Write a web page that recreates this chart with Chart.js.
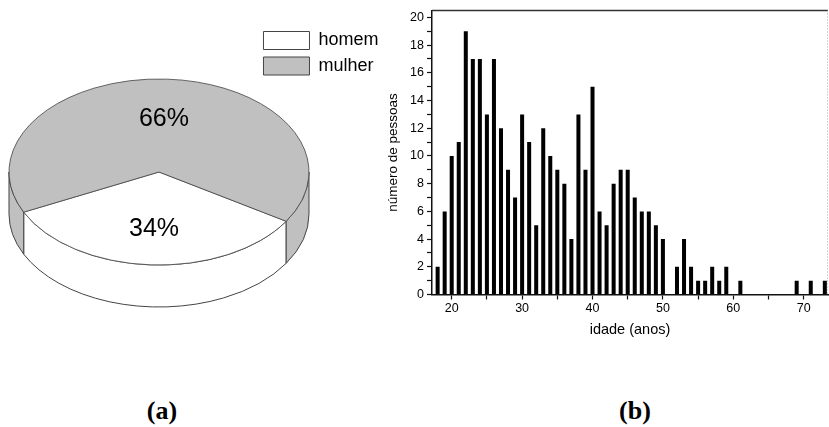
<!DOCTYPE html>
<html>
<head>
<meta charset="utf-8">
<script src="https://cdn.jsdelivr.net/npm/chart.js@4.4.1/dist/chart.umd.min.js"></script>
<style>
    html, body { margin: 0; padding: 0; background: #fff; }
    body { width: 829px; height: 427px; position: relative; overflow: hidden; }
    #pizza { position: absolute; left: 0; top: 0; }
    #histo { position: absolute; left: 380px; top: 0; }
    .rotulo {
        position: absolute; top: 396px; width: 80px; margin-left: -40px;
        text-align: center; line-height: 30px;
        font: bold 26px "Liberation Serif", "Times New Roman", serif;
    }
</style>
</head>
<body>
<canvas id="pizza" width="400" height="340"></canvas>
<canvas id="histo" width="449" height="345"></canvas>
<div class="rotulo" style="left:162px">(a)</div>
<div class="rotulo" style="left:635px">(b)</div>

<script>
// dados do gráfico (a)
const sexos = ['homem', 'mulher'];
const percentuais = [34, 66];
const coresSexo = ['#ffffff', '#c0c0c0'];

// dados do gráfico (b)
const idades = [18, 19, 20, 21, 22, 23, 24, 25, 26, 27, 28, 29, 30, 31, 32, 33, 34, 35, 36, 37, 38, 39, 40,
    41, 42, 43, 44, 45, 46, 47, 48, 49, 50, 52, 53, 54, 55, 56, 57, 58, 59, 61, 69, 71, 73];
const pessoas = [2, 6, 10, 11, 19, 17, 17, 13, 17, 12, 9, 7, 13, 11, 5, 12, 10, 9, 8, 4, 13, 9, 15,
    6, 5, 8, 9, 9, 7, 6, 6, 5, 4, 2, 4, 2, 1, 1, 2, 1, 2, 1, 1, 1, 1];
const ticksIdade = [20, 25, 30, 35, 40, 45, 50, 55, 60, 65, 70];
const ticksPessoas = [0, 1, 2, 3, 4, 5, 6, 7, 8, 9, 10, 11, 12, 13, 14, 15, 16, 17, 18, 19, 20];

Chart.defaults.font.family = '"Liberation Sans", Arial, sans-serif';
Chart.defaults.color = '#000';
Chart.defaults.animation = false;

/**
 * Plugin qui dessine la pizza en 3D : côtés d'abord, puis le dessus aplati
 */
const pizza3d = {
    id: 'pizza3d',
    beforeDatasetsDraw(chart, args, opts) {
        const ctx = chart.ctx;
        const arcos = chart.getDatasetMeta(0).data;
        if (!arcos.length) return;
        const k = opts.achatamento, alt = opts.altura;
        const x = arcos[0].x, y = arcos[0].y;
        ctx.save();
        ctx.lineWidth = 1;
        ctx.strokeStyle = opts.contorno;
        arcos.forEach(arco => {
            const r = arco.outerRadius;
            [0, 2 * Math.PI].forEach(base => {
                const a = Math.max(arco.startAngle, base);
                const b = Math.min(arco.endAngle, base + Math.PI);
                if (b <= a) return;
                ctx.beginPath();
                ctx.ellipse(x, y, r, r * k, 0, a, b);
                ctx.lineTo(x + r * Math.cos(b), y + r * k * Math.sin(b) + alt);
                ctx.ellipse(x, y + alt, r, r * k, 0, b, a, true);
                ctx.closePath();
                ctx.fillStyle = arco.options.backgroundColor;
                ctx.fill();
                ctx.stroke();
            });
        });
        ctx.restore();
        ctx.save();
        ctx.translate(x, y);
        ctx.scale(1, k);
        ctx.translate(-x, -y);
    },
    afterDatasetsDraw(chart, args, opts) {
        const ctx = chart.ctx;
        ctx.restore();
        const arcos = chart.getDatasetMeta(0).data;
        ctx.save();
        ctx.font = '25px "Liberation Sans", Arial, sans-serif';
        ctx.fillStyle = '#000';
        ctx.textAlign = 'center';
        ctx.textBaseline = 'middle';
        arcos.forEach((arco, i) => {
            const meio = (arco.startAngle + arco.endAngle) / 2;
            const d = arco.outerRadius * opts.posTexto;
            ctx.fillText(percentuais[i] + '%', arco.x + d * Math.cos(meio),
                arco.y + d * opts.achatamento * Math.sin(meio) + opts.desloc);
        });
        ctx.restore();
    }
};

const moldura = {
    id: 'moldura',
    afterDraw(chart) {
        const ctx = chart.ctx, a = chart.chartArea;
        ctx.save();
        ctx.strokeStyle = '#333';
        ctx.lineWidth = 1.5;
        ctx.beginPath();
        ctx.moveTo(a.left, a.top);
        ctx.lineTo(a.right, a.top);
        ctx.stroke();
        ctx.setLineDash([1, 2]);
        ctx.strokeStyle = '#aaa';
        ctx.lineWidth = 1;
        ctx.beginPath();
        ctx.moveTo(a.right - 0.5, a.top);
        ctx.lineTo(a.right - 0.5, a.bottom);
        ctx.stroke();
        ctx.restore();
    }
};

new Chart(document.getElementById('pizza'), {
    type: 'pie',
    data: {
        labels: sexos,
        datasets: [{
            data: percentuais,
            backgroundColor: coresSexo,
            borderColor: '#444',
            borderWidth: 1,
            clip: false
        }]
    },
    options: {
        responsive: false,
        rotation: 122,
        radius: 150,
        layout: { padding: { left: 62, top: 24, right: 11.5, bottom: 20 } },
        plugins: {
            legend: {
                position: 'right',
                align: 'start',
                labels: { boxWidth: 46, boxHeight: 18, padding: 7.5, font: { size: 18 }, color: '#000' }
            },
            tooltip: { enabled: false },
            pizza3d: { achatamento: 0.62, altura: 42, contorno: '#444', posTexto: 0.59, desloc: 2 }
        },
        events: []
    },
    plugins: [pizza3d]
});

new Chart(document.getElementById('histo'), {
    type: 'bar',
    data: {
        labels: idades,
        datasets: [{
            data: pessoas,
            backgroundColor: '#000',
            borderWidth: 0,
            barPercentage: 0.57,
            categoryPercentage: 1
        }]
    },
    options: {
        responsive: false,
        layout: { padding: { top: 10, right: 1, bottom: 0, left: 0 } },
        plugins: { legend: { display: false }, tooltip: { enabled: false } },
        events: [],
        scales: {
            x: {
                type: 'linear',
                min: 17.2,
                max: 73.45,
                offset: false,
                afterBuildTicks: s => { s.ticks = ticksIdade.map(v => ({ value: v })); },
                afterFit: s => { s.height = 50.5; },
                grid: { drawOnChartArea: false, offset: false, tickLength: 5, tickColor: '#111', tickWidth: 1.2 },
                border: { color: '#111', width: 1.5 },
                ticks: {
                    autoSkip: false, maxRotation: 0, padding: 2, color: '#000', font: { size: 12.5 },
                    callback: v => (v % 10 === 0 ? v : '')
                },
                title: { display: true, text: 'idade (anos)', font: { size: 14.5 }, color: '#000', padding: { top: 0, bottom: 6 } }
            },
            y: {
                min: 0,
                max: 20.5,
                afterBuildTicks: s => { s.ticks = ticksPessoas.map(v => ({ value: v })); },
                afterFit: s => { s.width = 52; },
                grid: { drawOnChartArea: false, tickLength: 5, tickColor: '#111', tickWidth: 1.2 },
                border: { color: '#111', width: 1.5 },
                ticks: {
                    autoSkip: false, padding: 3, color: '#000', font: { size: 12.5 },
                    callback: v => (v % 2 === 0 ? v : '')
                },
                title: { display: true, text: 'número de pessoas', font: { size: 13.5 }, color: '#000', padding: { top: 5, bottom: 0 } }
            }
        }
    },
    plugins: [moldura]
});
</script>
</body>
</html>
